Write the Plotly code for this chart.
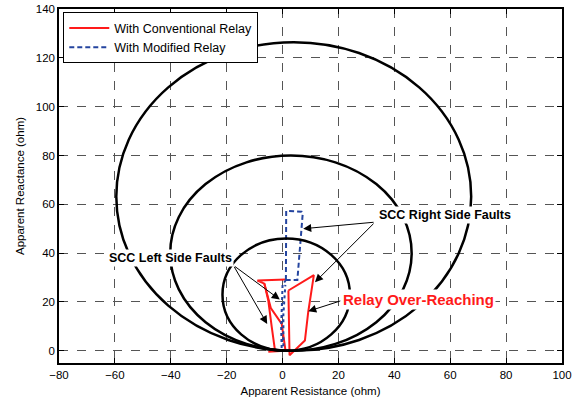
import plotly.graph_objects as go

# ---- data -------------------------------------------------------------
# black impedance trajectories (ellipses): centre and radii, in ohm
circle_cx = [4.0, 3.0, 1.3]
circle_cy = [63.2, 40.0, 23.0]
circle_rx = [63.5, 43.2, 22.8]
circle_ry = [63.2, 40.0, 23.0]

# With Conventional Relay (red), segments separated by None
conv_x = [1.2, -9.0, -6.5, -5.1, -3.9, -2.7, None,
          -6.5, -4.2, -0.3, 0.3, 1.0, None,
          -5.1, 2.1, None,
          2.1, 11.2, 9.2, 8.0, 2.5, 2.1]
conv_y = [29.2, 28.8, 27.5, 20.6, 10.0, 0.1, None,
          27.5, 17.5, 11.0, 5.6, 0.5, None,
          -0.4, 0.1, None,
          24.7, 31.0, 16.0, 4.2, -1.8, 24.7]

# With Modified Relay (blue)
mod_x = [1.2, 1.3, 6.8, 7.2, 5.3, 1.2]
mod_y = [29.0, 57.3, 57.0, 56.0, 29.0, 29.0]
mod_tail_x = [1.2, 0.0, -0.5, -0.3, 0.3, 0.3, 1.0]
mod_tail_y = [29.0, 27.0, 10.0, 0.0, 0.0, 15.0, 27.0]

x_ticks = [-80, -60, -40, -20, 0, 20, 40, 60, 80, 100]
y_ticks = [0, 20, 40, 60, 80, 100, 120, 140]

# annotations: text, centre, font size, colour
labels = [
    ("SCC Left Side Faults", -40.0, 38.2, 12.5, "black"),
    ("SCC Right Side Faults", 58.0, 55.7, 12.5, "black"),
    ("Relay Over-Reaching", 48.8, 21.0, 15, "#ff1a1a"),
]
# arrows: tail (x, y) -> tip (x, y)
arrows = [
    (-17.6, 35.0, -1.0, 21.0),
    (-17.6, 35.0, -5.5, 11.0),
    (33.1, 52.7, 7.4, 50.0),
    (33.1, 52.7, 11.6, 28.1),
    (21.2, 20.6, 9.2, 16.2),
]

FONT = "Arial, Liberation Sans, Helvetica, sans-serif"

fig = go.Figure()

fig.add_trace(go.Scatter(x=conv_x, y=conv_y, mode="lines",
                         line=dict(color="#ff1a1a", width=2),
                         name="With Conventional Relay", connectgaps=False))
fig.add_trace(go.Scatter(x=mod_x, y=mod_y, mode="lines",
                         line=dict(color="#24449f", width=2, dash="5px,3px"),
                         name="With Modified Relay", legendgroup="mod"))
fig.add_trace(go.Scatter(x=mod_tail_x, y=mod_tail_y, mode="lines",
                         line=dict(color="#24449f", width=2, dash="dot"),
                         showlegend=False, legendgroup="mod"))

shapes = []
for cx, cy, rx, ry in zip(circle_cx, circle_cy, circle_rx, circle_ry):
    shapes.append(dict(type="circle", xref="x", yref="y",
                       x0=cx - rx, x1=cx + rx, y0=cy - ry, y1=cy + ry,
                       line=dict(color="black", width=2.5), layer="above"))

annotations = []
for tx, ty, hx, hy in arrows:
    annotations.append(dict(x=hx, y=hy, ax=tx, ay=ty, xref="x", yref="y",
                            axref="x", ayref="y", text="", showarrow=True,
                            arrowhead=2, arrowsize=1.6, arrowwidth=1,
                            arrowcolor="black"))
for text, x, y, size, col in labels:
    annotations.append(dict(x=x, y=y, xref="x", yref="y", text="<b>%s</b>" % text,
                            showarrow=False, bgcolor="white",
                            font=dict(family=FONT, size=size, color=col)))

axis_common = dict(showline=True, linecolor="black", linewidth=1.5, mirror="ticks",
                   ticks="inside", ticklen=5, tickcolor="black", tickwidth=1,
                   showgrid=True, gridcolor="#555555", griddash="dash", gridwidth=1,
                   zeroline=False, automargin=False,
                   tickfont=dict(family=FONT, size=11.5, color="black"))

fig.update_layout(
    width=579, height=402,
    margin=dict(l=59, r=17, t=9, b=39),
    paper_bgcolor="white", plot_bgcolor="white",
    font=dict(family=FONT, size=11.5, color="black"),
    shapes=shapes, annotations=annotations,
    showlegend=True,
    legend=dict(x=0.0085, y=0.9907, xanchor="left", yanchor="top",
                bordercolor="black", borderwidth=1, bgcolor="white",
                font=dict(family=FONT, size=12.5), tracegroupgap=0,
                itemwidth=40),
    xaxis=dict(range=[-80, 100], tickvals=x_ticks,
               title=dict(text="Apparent Resistance (ohm)", standoff=7,
                          font=dict(family=FONT, size=11.5)),
               **axis_common),
    yaxis=dict(range=[-5, 140], tickvals=y_ticks,
               title=dict(text="Apparent Reactance (ohm)", standoff=9,
                          font=dict(family=FONT, size=11.5)),
               **axis_common),
)

fig.write_html("out.html")
